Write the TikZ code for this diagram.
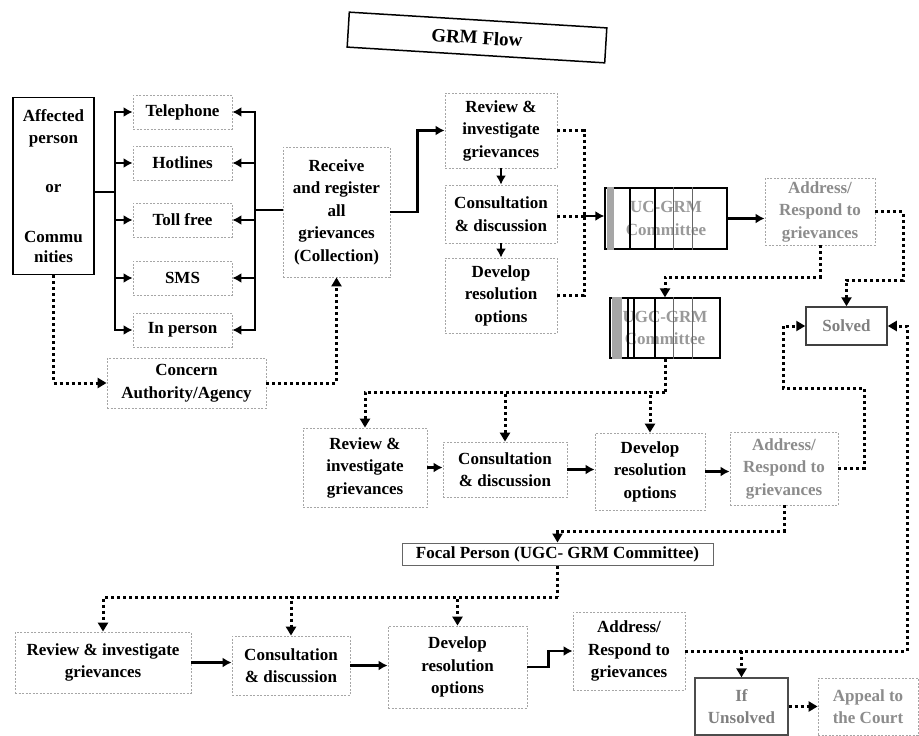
\documentclass[tikz,border=0pt]{standalone}
\usepackage{fontspec}
\setmainfont{Liberation Serif}
\usetikzlibrary{arrows.meta,calc}
\newcommand\grmfont{\bfseries\fontsize{17}{22.5}\selectfont}
\begin{document}
\begin{tikzpicture}[x=1pt,y=-1pt,
  box/.style={draw=black!35, dash pattern=on 2pt off 1.5pt, line width=0.8pt, align=center, inner sep=1pt, font=\grmfont, text=black},
  faint/.style={box, text=black!45},
  solidbox/.style={box, solid, draw=black, line width=1.3pt},
  solarr/.style={line width=2.6pt, -{Latex[length=9pt,width=10pt]}},
  solln/.style={line width=2.6pt},
  dotln/.style={line width=3pt, dash pattern=on 3pt off 3pt},
  dotarr/.style={dotln, -{Triangle[length=9pt,width=10pt]}},
  stripe/.style={line width=2.5pt, black},
  thinstripe/.style={line width=0.8pt, black!60}
]
\path[use as bounding box, fill=white] (0,0) rectangle (919,736);

% title
\node[solidbox, line width=1.5pt, rotate=-3.5, minimum width=258, minimum height=35,
      font=\bfseries\fontsize{19}{22}\selectfont] (title) at (477,37.5) {GRM Flow};

% affected person
\node[solidbox, line width=1.2pt, minimum width=81, minimum height=177] (aff) at (53.5,186)
  {Affected\\person\\[26pt]or\\[28pt]Commu\\[-3pt]nities};

% channels
\foreach \n/\t/\y in {tel/Telephone/112, hot/Hotlines/163, toll/Toll free/220, sms/SMS/278, inp/In person/330}
  \node[box, minimum width=99, minimum height=34] (\n) at (182.5,\y) {\t};

% receive
\node[box, minimum width=107, minimum height=130] (recv) at (336.5,212)
  {Receive\\and register\\all\\grievances\\(Collection)};

\coordinate (lbus) at (115,192);
\coordinate (rbus) at (255,210);
\draw[solln] (aff.east |- lbus) -- (lbus);
\foreach \n in {tel,hot,toll,sms,inp} {
  \draw[solarr] (lbus) |- (\n.west);
  \draw[solarr] (rbus) |- (\n.east);
}
\draw[solln] (rbus) -- (rbus -| recv.west);

% concern authority
\node[box, minimum width=159, minimum height=50] (conc) at (186.5,383) {Concern\\Authority/Agency};
\draw[dotarr] (aff.south) |- (conc.west);
\draw[dotarr] (conc.east) -| (recv.south);

% first review group
\node[box, minimum width=112, minimum height=75] (rev1) at (501,130.5) {Review \&\\investigate\\grievances};
\node[box, minimum width=112, minimum height=58] (con1) at (501,214) {Consultation\\\& discussion};
\node[box, minimum width=112, minimum height=75] (dev1) at (501,295.5) {Develop\\resolution\\options};
\draw[solarr] (recv.east) -- ++(27,0) |- (rev1.west);
\draw[solarr, line width=2pt] (rev1.south) -- (con1.north);
\draw[solarr, line width=2pt] (con1.south) -- (dev1.north);

% committee 1
\node[box, solid, draw=black, line width=1.3pt, text=black!40, minimum width=122, minimum height=61] (com1) at (666,218.5) {UC-GRM\\Committee};
\fill[black!35] ($(com1.north west)+(3,0)$) rectangle ($(com1.south west)+(10,0)$);
\foreach \x in {630,655} \draw[stripe] (com1.north -| \x,0) -- (com1.south -| \x,0);
\foreach \x in {673,692} \draw[thinstripe] (com1.north -| \x,0) -- (com1.south -| \x,0);

\coordinate (j1) at (584,216);
\draw[dotln] (rev1.east) -| (j1);
\draw[dotln] (dev1.east) -| (j1);
\draw[dotln] (con1.east |- j1) -- (j1);
\draw[solarr] (j1) -- (j1 -| com1.west);

% address 1
\node[faint, minimum width=110, minimum height=67] (adr1) at (820,211.5) {Address/\\Respond to\\grievances};
\draw[solarr] (com1.east) -- (com1.east -| adr1.west);

% solved
\node[box, solid, draw=black!75, line width=1.5pt, text=black!50, minimum width=81, minimum height=38] (solved) at (846.5,326) {Solved};
\draw[dotarr] (adr1.east) -- (903,211.5) -- (903,280) -| (solved.north);

% committee 2
\node[box, solid, draw=black, line width=1.3pt, text=black!40, minimum width=110, minimum height=60] (com2) at (665,328) {UGC-GRM\\Committee};
\fill[black!35] ($(com2.north west)+(3,0)$) rectangle ($(com2.south west)+(13,0)$);
\foreach \x in {628,634,655} \draw[stripe] (com2.north -| \x,0) -- (com2.south -| \x,0);
\foreach \x in {673,692} \draw[thinstripe] (com2.north -| \x,0) -- (com2.south -| \x,0);
\draw[dotarr] (adr1.south) -- (adr1.south |- 0,277) -| (com2.north);

% second review group
\node[box, minimum width=124, minimum height=79] (rev2) at (365,467.5) {Review \&\\investigate\\grievances};
\node[box, minimum width=124, minimum height=55] (con2) at (505,469.5) {Consultation\\\& discussion};
\node[box, minimum width=110, minimum height=77] (dev2) at (650,471.5) {Develop\\resolution\\options};
\node[faint, minimum width=108, minimum height=73] (adr2) at (784,468.5) {Address/\\Respond to\\grievances};
\coordinate (h2) at (665,392);
\draw[dotln] (com2.south) -- (h2);
\draw[dotarr] (h2) -| (rev2.north);
\draw[dotarr] (h2) -| (con2.north);
\draw[dotarr] (h2) -| (dev2.north);
\draw[solarr] (rev2.east) -- (con2.west |- rev2.east);
\draw[solarr] (con2.east) -- (dev2.west |- con2.east);
\draw[solarr] (dev2.east) -- (adr2.west |- dev2.east);
\draw[dotarr] (adr2.east) -- (864,468.5) -- (864,388) -- (783,388) |- (solved.west);

% focal person
\node[box, solid, draw=black!60, line width=1pt, minimum width=311, minimum height=22, inner sep=0pt] (foc) at (557.5,554) {Focal Person (UGC- GRM Committee)};
\draw[dotarr] (adr2.south) -- (adr2.south |- 0,531) -| (foc.north);

% third review group
\node[box, minimum width=176, minimum height=61] (rev3) at (103,662.5) {Review \& investigate\\grievances};
\node[box, minimum width=118, minimum height=59] (con3) at (291,665.5) {Consultation\\\& discussion};
\node[box, minimum width=139, minimum height=82] (dev3) at (457.5,667) {Develop\\resolution\\options};
\node[box, minimum width=112, minimum height=78] (adr3) at (629,651) {Address/\\Respond to\\grievances};
\coordinate (h3) at (557.5,597);
\draw[dotln] (foc.south) -- (h3);
\draw[dotarr] (h3) -| (rev3.north);
\draw[dotarr] (h3) -| (con3.north);
\draw[dotarr] (h3) -| (dev3.north);
\draw[solarr] (rev3.east) -- (con3.west |- rev3.east);
\draw[solarr] (con3.east) -- (dev3.west |- con3.east);
\draw[solarr] (dev3.east) -- ++(21,0) |- (adr3.west);

% unsolved / appeal
\node[box, solid, draw=black!70, line width=1.3pt, text=black!50, minimum width=93, minimum height=57] (iu) at (741.5,706.5) {If\\Unsolved};
\node[faint, minimum width=100, minimum height=57] (ap) at (868,706.5) {Appeal to\\the Court};
\draw[dotarr] (adr3.east) -- (907,651) |- (solved.east);
\draw[dotarr] (iu.north |- adr3.east) -- (iu.north);
\draw[dotarr] (iu.east) -- (ap.west);
\end{tikzpicture}
\end{document}
